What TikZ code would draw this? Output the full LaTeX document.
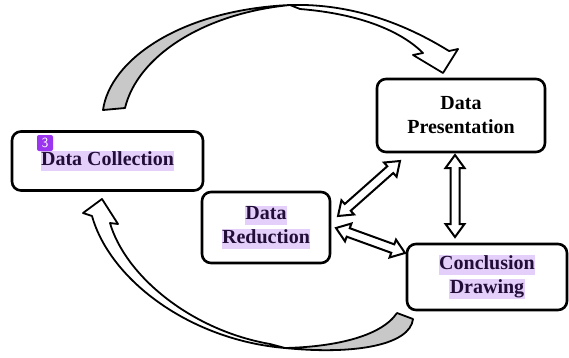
\documentclass[tikz,border=0pt]{standalone}
\usepackage{fontspec}
\setmainfont{Liberation Serif}
\usetikzlibrary{calc}
\definecolor{hlcol}{HTML}{E4CEFA}
\definecolor{txtcol}{HTML}{220C38}
\definecolor{badgecol}{HTML}{9B35F0}
\definecolor{ribgray}{HTML}{C8C8C8}
\newcommand\hlt[1]{{\setlength{\fboxsep}{0.5pt}\colorbox{hlcol}{\rule[-4.5pt]{0pt}{15.5pt}#1}}}
\newcommand\blockdbl[2]{%
  \path let \p1=(#1), \p2=(#2), \n1={atan2(\y2-\y1,\x2-\x1)}, \n2={veclen(\x2-\x1,\y2-\y1)} in \pgfextra{\xdef\bdang{\n1}\xdef\bdlen{\n2}};
  \begin{scope}[shift={(#1)}, rotate=\bdang]
    \draw[dblarrow] (0pt,0pt) -- (13pt,9.5pt) -- (13pt,4.5pt) -- (\bdlen-13pt,4.5pt) -- (\bdlen-13pt,9.5pt) -- (\bdlen,0pt) -- (\bdlen-13pt,-9.5pt) -- (\bdlen-13pt,-4.5pt) -- (13pt,-4.5pt) -- (13pt,-9.5pt) -- cycle;
  \end{scope}}
\begin{document}
\begin{tikzpicture}[x=1pt,y=-1pt,
  box/.style={draw=black, line width=2.6pt, rounded corners=9pt, fill=white, align=center,
    font=\fontsize{20}{24}\selectfont\bfseries, inner sep=0pt},
  ribbon/.style={draw=black, line width=1.8pt, line join=round},
  dblarrow/.style={draw=black, fill=white, line width=2pt, line join=miter, miter limit=10}
]
\useasboundingbox (0,0) rectangle (569,357);

% curved ribbon arrows
\draw[ribbon, fill=ribgray] (103,110) .. controls (110,60) and (180,10) .. (290,5)
  .. controls (200,14) and (137,58) .. (125,108) -- cycle;
\draw[ribbon, fill=white] (290,5) .. controls (360,3) and (415,30) .. (449,51) -- (458,49) -- (443,73) -- (413,55) -- (423,53)
  .. controls (402,32) and (362,14) .. (300,9) -- cycle;

\draw[ribbon, fill=ribgray] (413,319) .. controls (410,345) and (355,355) .. (285,348)
  .. controls (330,347) and (380,338) .. (397,313) -- cycle;
\draw[ribbon, fill=white] (285,348) .. controls (190,340) and (110,280) .. (92,216) -- (83,213) -- (102,199) -- (118,224) -- (110,223)
  .. controls (125,275) and (190,330) .. (270,344) -- cycle;

% boxes
\node[box, minimum width=191pt, minimum height=59pt, text=txtcol] (coll) at (107.5,161) {\hlt{Data Collection}};
\node[box, minimum width=128pt, minimum height=71pt, text=txtcol] (red) at (266,227.5) {\hlt{Data}\\\hlt{Reduction}};
\node[box, minimum width=168pt, minimum height=73pt] (pres) at (461,115.5) {Data\\Presentation};
\node[box, minimum width=160pt, minimum height=66pt, text=txtcol] (conc) at (487,277) {\hlt{Conclusion}\\\hlt{Drawing}};

\node[fill=badgecol, rounded corners=2pt, minimum size=16pt, inner sep=0pt, text=white,
  font=\sffamily\fontsize{14}{14}\selectfont] (badge) at (45,143) {3};

% double block arrows
\coordinate (pr1) at (400,161); \coordinate (pr2) at (338,216);
\coordinate (rc1) at (336,228); \coordinate (rc2) at (405,253);
\coordinate (pc1) at (455,155); \coordinate (pc2) at (455,237);
\blockdbl{pr1}{pr2}
\blockdbl{rc1}{rc2}
\blockdbl{pc1}{pc2}
\end{tikzpicture}
\end{document}
